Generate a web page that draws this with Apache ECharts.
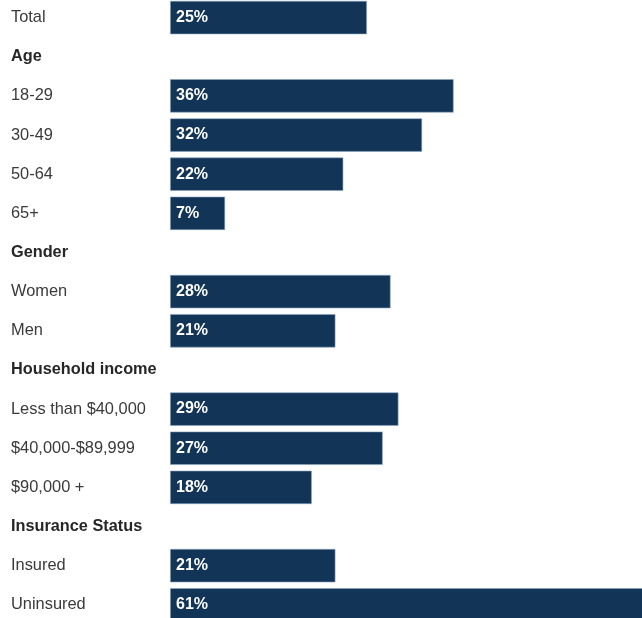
<!DOCTYPE html>
<html>
<head>
<meta charset="utf-8">
<script src="https://cdn.jsdelivr.net/npm/echarts@6/dist/echarts.min.js"></script>
<style>
  html, body { margin: 0; padding: 0; background: #ffffff; }
  #chart { width: 642px; height: 618px; }
</style>
</head>
<body>
<div id="chart"></div>
<script>
// Row labels, top to bottom; group headings carry no value.
const rowLabels = [
  'Total',
  'Age', '18-29', '30-49', '50-64', '65+',
  'Gender', 'Women', 'Men',
  'Household income', 'Less than $40,000', '$40,000-$89,999', '$90,000 +',
  'Insurance Status', 'Insured', 'Uninsured'
];
const shares = [
  25,
  null, 36, 32, 22, 7,
  null, 28, 21,
  null, 29, 27, 18,
  null, 21, 61
];
const headings = ['Age', 'Gender', 'Household income', 'Insurance Status'];
const axisMax = 61;

const chart = echarts.init(document.getElementById('chart'), null, { renderer: 'canvas' });

const pxPerUnit = 7.88;
const rowStep = 39.15;
const textFont = 'Liberation Sans, Arial, Helvetica, sans-serif';

chart.setOption({
  animation: false,
  backgroundColor: '#ffffff',
  grid: {
    left: 170,
    top: -2,
    width: axisMax * pxPerUnit,
    height: rowLabels.length * rowStep,
    containLabel: false,
    outerBoundsMode: 'none'
  },
  xAxis: {
    type: 'value',
    min: 0,
    max: axisMax,
    show: false
  },
  yAxis: {
    type: 'category',
    inverse: true,
    data: rowLabels,
    axisLine: { show: false },
    axisTick: { show: false },
    splitLine: { show: false },
    axisLabel: {
      align: 'left',
      margin: 159,
      formatter: function (v) {
        return headings.indexOf(v) >= 0 ? '{h|' + v + '}' : '{n|' + v + '}';
      },
      rich: {
        h: { fontFamily: textFont, fontSize: 16.3, fontWeight: 'bold', color: '#262626' },
        n: { fontFamily: textFont, fontSize: 16.4, color: '#3a3a3a' }
      }
    }
  },
  series: [{
    type: 'bar',
    data: shares,
    barWidth: 33.5,
    itemStyle: {
      color: '#113457',
      borderColor: 'rgba(140,165,195,0.75)',
      borderWidth: 0.8
    },
    label: {
      show: true,
      position: 'insideLeft',
      distance: 6,
      formatter: function (p) { return p.value == null ? '' : p.value + '%'; },
      color: '#ffffff',
      fontFamily: textFont,
      fontSize: 16,
      fontWeight: 'bold'
    }
  }]
});
</script>
</body>
</html>
